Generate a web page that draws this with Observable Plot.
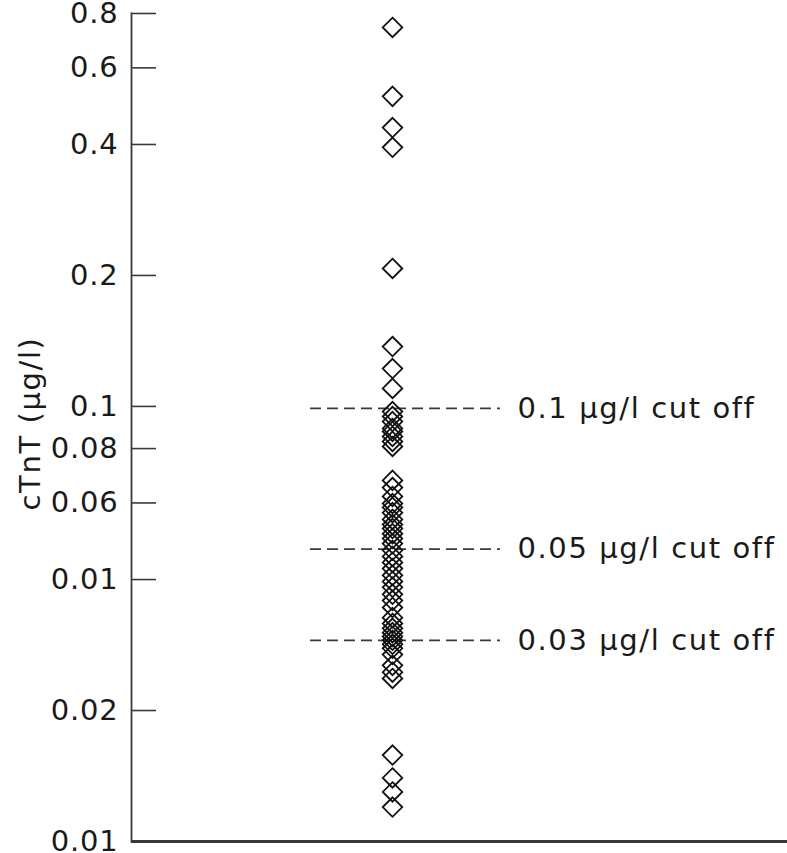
<!DOCTYPE html>
<html>
<head>
<meta charset="utf-8">
<script src="https://cdn.jsdelivr.net/npm/d3@7"></script>
<script src="https://cdn.jsdelivr.net/npm/@observablehq/plot@0.6"></script>
<style>
  html, body { margin: 0; padding: 0; background: #fff; }
  #chart svg { display: block; }
  #chart g[aria-label="text"] text { letter-spacing: 1.6px; }
  #chart g[aria-label="y-axis tick label"] text { letter-spacing: 0.8px; }
</style>
</head>
<body>
<div id="chart"></div>
<script>
// cTnT values (µg/l)
const cTnT = [
  0.743, 0.516, 0.4375, 0.394, 0.2075, 0.1373, 0.1222, 0.1100,
  0.0973, 0.0948, 0.0923, 0.0890, 0.0876, 0.0853, 0.0831, 0.0809,
  0.0676, 0.0651, 0.0621, 0.0598, 0.0586, 0.0570, 0.0550, 0.0535,
  0.0524, 0.0510, 0.0497, 0.0484, 0.0467, 0.0452, 0.0438, 0.0424,
  0.0409, 0.0396, 0.0384, 0.0370, 0.0358, 0.0345,
  0.0327, 0.0317, 0.0309, 0.0302, 0.0296, 0.0290, 0.0284, 0.0278,
  0.0269, 0.0254, 0.0245, 0.0237,
  0.0158, 0.0140, 0.0130, 0.0120
];
const groupName = "cTnT";

// cut-off lines
const cutoffValues = [0.099, 0.047, 0.029];
const cutoffLabels = ["0.1 μg/l cut off", "0.05 μg/l cut off", "0.03 μg/l cut off"];

// y axis ticks (labels as printed in the original)
const tickValues = [0.01, 0.02, 0.04, 0.06, 0.08, 0.1, 0.2, 0.4, 0.6, 0.8];
const tickLabels = ["0.01", "0.02", "0.01", "0.06", "0.08", "0.1", "0.2", "0.4", "0.6", "0.8"];
const yLabel = "cTnT (μg/l)";

const labelMap = new Map(tickValues.map((v, i) => [v, tickLabels[i]]));
const cutoffs = cutoffValues.map((v, i) => ({value: v, label: cutoffLabels[i]}));

const W = 787, H = 853, ML = 131, MR = 0, MT = 13, MB = 12;
const axisColor = "#3a3a3a";
const font = "DejaVu Sans";

const chart = Plot.plot({
  width: W,
  height: H,
  marginLeft: ML,
  marginRight: MR,
  marginTop: MT,
  marginBottom: MB,
  style: {fontFamily: font, color: "#1a1a1a", background: "#fff"},
  x: {type: "point", domain: [groupName], padding: 0, align: 0.398, axis: null},
  y: {type: "log", domain: [0.01, 0.8], axis: null},
  marks: [
    // tick marks pointing inward
    Plot.ruleY(tickValues, {stroke: axisColor, strokeWidth: 1.6, insetRight: W - ML - MR - 25}),
    // tick labels
    Plot.axisY(tickValues, {
      anchor: "left",
      tickSize: 0,
      tickPadding: 13,
      tickFormat: d => labelMap.get(d),
      fontSize: 29,
      fill: "#1a1a1a",
      label: null
    }),
    // axis lines
    Plot.frame({anchor: "left", stroke: axisColor, strokeWidth: 1.8}),
    Plot.ruleY([0.01], {stroke: axisColor, strokeWidth: 3}),
    // y axis title
    Plot.text([yLabel], {
      frameAnchor: "left",
      text: d => d,
      rotate: -90,
      textAnchor: "middle",
      dx: -101,
      dy: -4,
      fontSize: 29,
      fill: "#1a1a1a"
    }),
    // cut-off dashed lines
    Plot.ruleY(cutoffs, {
      y: "value",
      stroke: axisColor,
      strokeWidth: 1.8,
      strokeDasharray: "11,6",
      insetLeft: 310 - ML,
      insetRight: W - 500
    }),
    Plot.text(cutoffs, {
      y: "value",
      text: "label",
      frameAnchor: "left",
      textAnchor: "start",
      dx: 517 - ML,
      fontSize: 29,
      fill: "#1a1a1a"
    }),
    // data points
    Plot.dot(cTnT, {
      x: () => groupName,
      y: d => d,
      symbol: "diamond2",
      r: 8.8,
      stroke: "#111",
      strokeWidth: 1.8,
      fill: "none"
    })
  ]
});
document.getElementById("chart").appendChild(chart);
</script>
</body>
</html>
